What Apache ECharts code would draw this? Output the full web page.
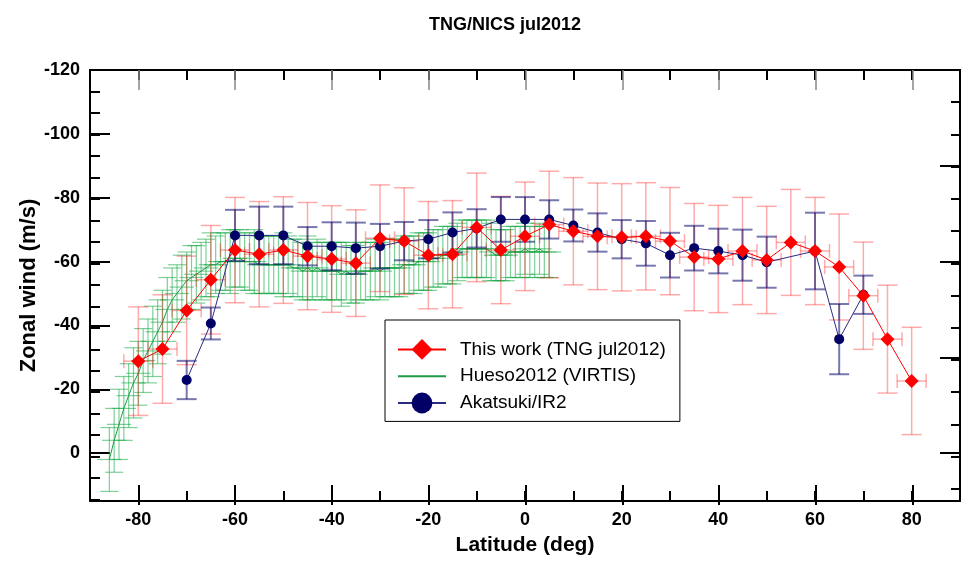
<!DOCTYPE html>
<html>
<head>
<meta charset="utf-8">
<script src="https://cdn.jsdelivr.net/npm/echarts@6/dist/echarts.min.js"></script>
<style>
  html, body { margin: 0; padding: 0; background: #fff; }
  #chart { width: 963px; height: 561px; }
</style>
</head>
<body>
<div id="chart"></div>
<script>
// TNG jul2012 (this work)
const redLat = [-80, -75, -70, -65, -60, -55, -50, -45, -40, -35, -30, -25, -20, -15, -10, -5, 0,
  5, 10, 15, 20, 25, 30, 35, 40, 45, 50, 55, 60, 65, 70, 75, 80];
const redVal = [-28.8, -32.6, -44.7, -54.3, -63.6, -62.3, -63.6, -61.7, -60.8, -59.5, -67.3, -66.4, -62.0, -62.3, -70.7, -63.6, -67.9,
  -71.6, -69.5, -67.9, -67.6, -67.9, -66.4, -61.4, -60.8, -63.3, -60.5, -66.0, -63.3, -58.3, -49.3, -35.7, -22.6];
const redErr = [17, 17, 17, 17, 16.5, 16.5, 16.7, 16.8, 16.7, 16.7, 16.7, 16.7, 16.8, 16.8, 17, 16.8, 17,
  16.7, 16.8, 16.7, 16.8, 16.8, 16.8, 16.8, 16.8, 16.8, 16.8, 16.6, 16.8, 16.6, 16.8, 16.9, 16.8];
const redLatErr = [3, 3, 3, 3, 3, 3, 3, 3, 3, 3, 3, 3, 3, 3, 3, 3, 3,
  3, 3, 3, 3, 3, 3, 3, 3, 3, 3, 3, 3, 3, 3, 3, 3];

// Akatsuki/IR2
const blueLat = [-70, -65, -60, -55, -50, -45, -40, -35, -30, -25, -20, -15, -10, -5, 0, 5,
  10, 15, 20, 25, 30, 35, 40, 45, 50, 60, 65, 70];
const blueVal = [-22.9, -40.6, -68.2, -68.2, -68.2, -64.8, -64.8, -64.2, -64.8, -66.4, -67.0, -69.1, -70.4, -73.2, -73.2, -73.2,
  -71.3, -69.1, -67.0, -65.7, -62.0, -64.2, -63.3, -62.0, -59.8, -63.3, -35.7, -49.6];
const blueErr = [6, 5, 8, 9, 9, 6, 7.5, 8, 7, 6, 6, 6.3, 6, 7, 7, 6,
  5, 6, 6, 7, 7, 7, 7, 8, 8, 12, 11, 6];

// Hueso2012 (VIRTIS)
const greenLat = [-86, -85, -84, -83, -82, -81, -80, -79, -78, -77, -76, -75, -74, -73, -72, -71, -70, -69, -68, -67,
  -66, -65, -64, -63, -62, -61, -60, -59, -58, -57, -56, -55, -54, -53, -52, -51, -50, -49, -48, -47,
  -46, -45, -44, -43, -42, -41, -40, -39, -38, -37, -36, -35, -34, -33, -32, -31, -30, -29, -28, -27,
  -26, -25, -24, -23, -22, -21, -20, -19, -18, -17, -16, -15, -14, -13, -12, -11, -10, -9, -8, -7,
  -6, -5, -4, -3, -2, -1, 0, 1, 2, 3, 4, 5];
const greenVal = [2, -4, -9, -14, -18, -22, -25, -29, -32, -35, -38, -41, -45, -48, -50, -52, -54, -55, -56, -57,
  -58, -59, -59, -60, -60, -60, -61, -61, -60, -60, -60, -59, -59, -59, -59, -59, -59, -59, -58, -58,
  -57, -58, -57, -58, -57, -57, -57, -57, -56, -57, -56, -56, -57, -57, -57, -58, -57, -58, -58, -58,
  -58, -59, -59, -59, -60, -60, -60, -61, -61, -62, -62, -62, -63, -64, -64, -64, -64, -64, -64, -63,
  -62, -62, -62, -63, -63, -63, -64, -63, -63, -64, -63, -63];
const greenErr = [10, 10, 11, 10, 10, 11, 10, 10, 10, 11, 10, 10, 10, 10, 9, 10, 9, 10, 9, 9,
  9, 10, 9, 9, 9, 10, 9, 9, 9, 9, 10, 9, 9, 9, 9, 9, 10, 9, 9, 9,
  9, 10, 9, 9, 9, 9, 9, 9, 10, 9, 9, 9, 9, 9, 9, 9, 9, 9, 9, 9,
  9, 9, 9, 9, 9, 9, 9, 9, 9, 9, 9, 9, 9, 9, 9, 9, 9, 9, 9, 9,
  8, 8, 8, 8, 8, 8, 8, 8, 8, 8, 8, 8];
const greenLatErr = 2.5;

const chart = echarts.init(document.getElementById('chart'));

const FONT = 'Liberation Sans, Arial, sans-serif';
const gridL = 90, gridR = 2, gridT = 70, gridB = 56;
const plotW = 963 - gridL - gridR;
const step = plotW / 18; // 10 deg in px
const yScale = (561 - gridT - gridB) / 135;

function rows(lat, val, err, xerr) {
  return lat.map(function (x, i) {
    return [x, val[i], err[i], Array.isArray(xerr) ? xerr[i] : (xerr || 0)];
  });
}

function errorBars(color, width, cap, xcap) {
  return function (params, api) {
    const x = api.value(0), y = api.value(1), ey = api.value(2), ex = api.value(3);
    const a = api.coord([x, y - ey]);
    const b = api.coord([x, y + ey]);
    const style = { stroke: color, lineWidth: width, fill: null };
    const kids = [
      { type: 'line', shape: { x1: a[0], y1: a[1], x2: b[0], y2: b[1] }, style: style },
      { type: 'line', shape: { x1: a[0] - cap, y1: a[1], x2: a[0] + cap, y2: a[1] }, style: style },
      { type: 'line', shape: { x1: b[0] - cap, y1: b[1], x2: b[0] + cap, y2: b[1] }, style: style }
    ];
    if (ex) {
      const l = api.coord([x - ex, y]);
      const r = api.coord([x + ex, y]);
      kids.push({ type: 'line', shape: { x1: l[0], y1: l[1], x2: r[0], y2: r[1] }, style: style });
      kids.push({ type: 'line', shape: { x1: l[0], y1: l[1] - xcap, x2: l[0], y2: l[1] + xcap }, style: style });
      kids.push({ type: 'line', shape: { x1: r[0], y1: r[1] - xcap, x2: r[0], y2: r[1] + xcap }, style: style });
    }
    return { type: 'group', children: kids };
  };
}

const lbl = { color: '#000', fontFamily: FONT, fontWeight: 'bold', fontSize: 18 };
const blackLine = { show: true, onZero: false, lineStyle: { color: '#000', width: 2 } };
const noLine = { show: true, onZero: false, lineStyle: { color: 'rgba(0,0,0,0)', width: 0 } };

chart.setOption({
  animation: false,
  backgroundColor: '#fff',
  title: {
    text: 'TNG/NICS jul2012',
    left: 500,
    textAlign: 'center',
    top: 11,
    textStyle: { fontFamily: FONT, fontWeight: 'bold', fontSize: 18, color: '#000' }
  },
  legend: {
    orient: 'vertical',
    left: 385,
    top: 320,
    padding: [19, 14, 8, 12],
    itemGap: 6,
    itemWidth: 48,
    itemHeight: 26,
    backgroundColor: '#fff',
    borderColor: '#000',
    borderWidth: 1,
    borderRadius: 0,
    data: [
      'This work (TNG jul2012)',
      { name: 'Hueso2012 (VIRTIS)', itemStyle: { color: 'rgba(0,0,0,0)', borderWidth: 0 } },
      'Akatsuki/IR2'
    ],
    textStyle: { fontFamily: FONT, fontSize: 19, color: '#000', padding: [0, 0, 0, 9] }
  },
  grid: [
    { left: gridL, right: gridR, top: gridT, bottom: gridB },
    // long latitude ticks along the top edge
    { left: gridL + step, right: gridR + step, top: gridT, bottom: gridB },
    // minor ticks of the left axis
    { left: gridL, right: gridR, top: gridT, bottom: 561 - gridT - (120 + 40 / 3) * yScale },
    // minor ticks of the right axis
    { left: gridL, right: gridR, top: gridT, bottom: 561 - gridT - 130 * yScale },
    // long latitude ticks along the bottom edge
    { left: gridL + step, right: gridR + step, top: 561 - gridB, bottom: gridB - 1 }
  ],
  xAxis: [
    {
      gridIndex: 0, type: 'value', position: 'bottom', min: -90, max: 90, interval: 10,
      axisLine: blackLine,
      axisTick: { inside: true, length: 10, lineStyle: { color: '#000', width: 2 } },
      axisLabel: Object.assign({ margin: 10, formatter: function (v) { return v % 20 === 0 ? String(v) : ''; } }, lbl),
      splitLine: { show: false },
      name: 'Latitude (deg)', nameLocation: 'middle', nameGap: 34, nameMoveOverlap: false,
      nameTextStyle: { fontFamily: FONT, fontWeight: 'bold', fontSize: 21, color: '#000' }
    },
    {
      gridIndex: 0, type: 'value', position: 'top', min: -90, max: 90, interval: 10,
      axisLine: blackLine,
      axisTick: { inside: true, length: 10, lineStyle: { color: '#000', width: 2 } },
      axisLabel: { show: false }, splitLine: { show: false }
    },
    {
      gridIndex: 1, type: 'value', position: 'top', min: -80, max: 80, interval: 20,
      axisLine: noLine,
      axisTick: { show: true, inside: true, length: 20, lineStyle: { color: '#888', width: 1.5 } },
      axisLabel: { show: false }, splitLine: { show: false }
    },
    { gridIndex: 2, type: 'value', show: false, min: -90, max: 90 },
    { gridIndex: 3, type: 'value', show: false, min: -90, max: 90 },
    {
      gridIndex: 4, type: 'value', position: 'top', min: -80, max: 80, interval: 20,
      axisLine: noLine,
      axisTick: { show: true, inside: false, length: 20, lineStyle: { color: '#000', width: 2 } },
      axisLabel: { show: false }, splitLine: { show: false }
    }
  ],
  yAxis: [
    {
      gridIndex: 0, type: 'value', position: 'left', inverse: true, min: -120, max: 15, interval: 20,
      axisLine: blackLine,
      axisTick: { inside: true, length: 20, lineStyle: { color: '#000', width: 2 } },
      axisLabel: Object.assign({ margin: 10, formatter: function (v) { return v > 0 ? '' : String(v); } }, lbl),
      splitLine: { show: false },
      name: 'Zonal wind (m/s)', nameLocation: 'middle', nameGap: 50, nameRotate: 90, nameMoveOverlap: false,
      nameTextStyle: { fontFamily: FONT, fontWeight: 'bold', fontSize: 22, color: '#000' }
    },
    {
      gridIndex: 0, type: 'value', position: 'right', inverse: true, min: -120, max: 15, interval: 30,
      axisLine: blackLine,
      axisTick: { inside: true, length: 20, lineStyle: { color: '#000', width: 2 } },
      axisLabel: { show: false }, splitLine: { show: false }
    },
    { gridIndex: 1, type: 'value', show: false, min: -120, max: 15, inverse: true },
    {
      gridIndex: 2, type: 'value', position: 'left', inverse: true, min: -120, max: 40 / 3, interval: 20 / 3,
      axisLine: noLine,
      axisTick: { inside: true, length: 10, lineStyle: { color: '#000', width: 2 } },
      axisLabel: { show: false }, splitLine: { show: false }
    },
    {
      gridIndex: 3, type: 'value', position: 'right', inverse: true, min: -120, max: 10, interval: 10,
      axisLine: noLine,
      axisTick: { inside: true, length: 10, lineStyle: { color: '#000', width: 2 } },
      axisLabel: { show: false }, splitLine: { show: false }
    },
    { gridIndex: 4, type: 'value', show: false, min: 0, max: 1 }
  ],
  series: [
    {
      type: 'custom', name: 'gErr', renderItem: errorBars('rgba(20,170,70,0.55)', 1.2, 9, 0),
      data: rows(greenLat, greenVal, greenErr, greenLatErr), encode: { x: 0, y: 1 }, z: 1
    },
    {
      name: 'Hueso2012 (VIRTIS)', type: 'line', data: greenLat.map((x, i) => [x, greenVal[i]]),
      symbol: 'none', lineStyle: { color: '#1f9a45', width: 1 }, z: 2
    },
    {
      type: 'custom', name: 'rErr', renderItem: errorBars('rgba(255,0,0,0.33)', 1.5, 10, 7),
      data: rows(redLat, redVal, redErr, redLatErr), encode: { x: 0, y: 1 }, z: 3
    },
    {
      type: 'custom', name: 'bErr', renderItem: errorBars('rgba(10,10,110,0.55)', 2, 10, 0),
      data: rows(blueLat, blueVal, blueErr, 0), encode: { x: 0, y: 1 }, z: 4
    },
    {
      name: 'Akatsuki/IR2', type: 'line', data: blueLat.map((x, i) => [x, blueVal[i]]),
      symbol: 'circle', symbolSize: 10,
      lineStyle: { color: '#2b2b85', width: 1 }, itemStyle: { color: '#000066' }, z: 5
    },
    {
      name: 'This work (TNG jul2012)', type: 'line', data: redLat.map((x, i) => [x, redVal[i]]),
      symbol: 'diamond', symbolSize: 14,
      lineStyle: { color: '#ff0000', width: 1 }, itemStyle: { color: '#ff0000' }, z: 6
    }
  ]
});
</script>
</body>
</html>
